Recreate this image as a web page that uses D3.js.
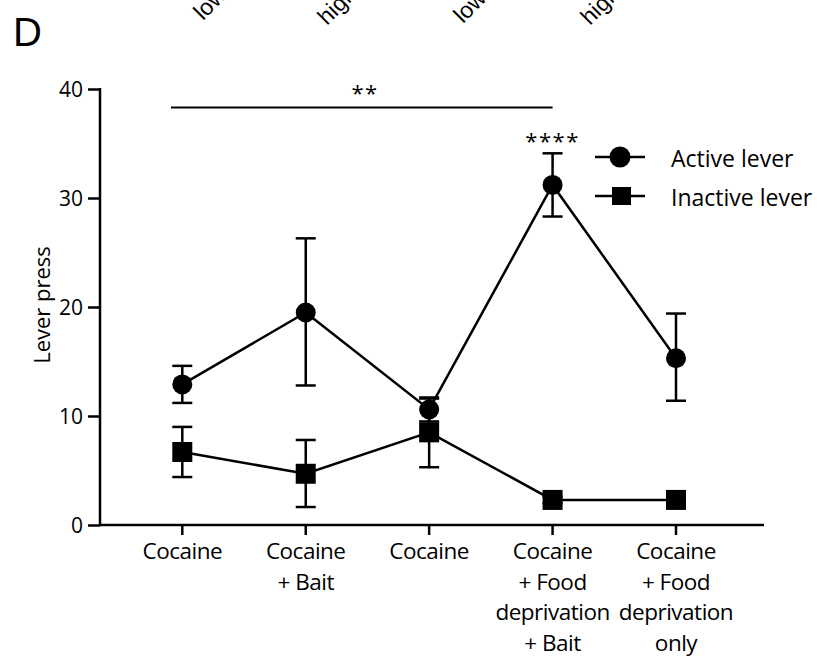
<!DOCTYPE html>
<html><head><meta charset="utf-8">
<script src="https://cdn.jsdelivr.net/npm/d3@7"></script>
<style>body{margin:0;background:#fff}svg{display:block}text{font-family:"Open Sans",Lato,sans-serif;fill:#000}</style>
</head><body>
<script>
const categories = [["Cocaine"],["Cocaine","+ Bait"],["Cocaine"],["Cocaine","+ Food","deprivation","+ Bait"],["Cocaine","+ Food","deprivation","only"]];
const activeMean = [12.9, 19.5, 10.6, 31.2, 15.3];
const activeHi   = [14.6, 26.3, 11.7, 34.1, 19.4];
const activeLo   = [11.2, 12.8, 9.5, 28.3, 11.4];
const inactiveMean = [6.7, 4.7, 8.5, 2.3, 2.3];
const inactiveHi   = [9.0, 7.8, 11.6, 2.6, 2.6];
const inactiveLo   = [4.4, 1.65, 5.3, 2.0, 2.0];
const yTicks = [0, 10, 20, 30, 40];
const seriesNames = ["Active lever", "Inactive lever"];
const topFragments = ["low", "high", "low", "high"];

const W = 817, H = 664;
const svg = d3.select("body").append("svg").attr("width", W).attr("height", H);

const x = d3.scalePoint().domain(d3.range(categories.length)).range([182.3, 676]);
const y = d3.scaleLinear().domain([0, 40]).range([525, 89]);

// cropped fragments from the panel above
const fragPos = [[203, 21], [327, 26], [463, 24], [590, 26]];
topFragments.forEach((t, i) => {
  svg.append("text").attr("transform", `translate(${fragPos[i][0]},${fragPos[i][1]}) rotate(-45)`)
    .attr("font-size", 23).style("font-family", "Liberation Sans, Arial, sans-serif").text(t);
});

svg.append("text").attr("x", 13).attr("y", 46).attr("font-size", 40).style("font-family", "Liberation Sans, Arial, sans-serif").text("D");

// axes
const yAxis = svg.append("g").attr("transform", "translate(100,0)")
  .call(d3.axisLeft(y).tickValues(yTicks).tickSize(12).tickPadding(5));
yAxis.select(".domain").attr("stroke-width", 2.5).attr("d", `M0,${y(40)-1}V${y(0)+1}`);
yAxis.selectAll(".tick line").attr("stroke-width", 2.5);
yAxis.selectAll(".tick text").attr("font-size", 21).style("font-family", "Open Sans, sans-serif").attr("dy", "0.36em");

const xg = svg.append("g").attr("transform", `translate(0,${y(0)})`);
xg.append("line").attr("x1", 99).attr("x2", 764).attr("stroke", "#000").attr("stroke-width", 2.5);
categories.forEach((c, i) => {
  xg.append("line").attr("x1", x(i)).attr("x2", x(i)).attr("y1", 0).attr("y2", 10).attr("stroke", "#000").attr("stroke-width", 2.5);
  const t = xg.append("text").attr("text-anchor", "middle").attr("font-size", 22.5).attr("letter-spacing", -0.5);
  c.forEach((line, j) => t.append("tspan").attr("x", x(i)).attr("y", 34 + j * 30.7).text(line));
});

// y label
svg.append("text").attr("transform", "translate(50,305) rotate(-90)").attr("text-anchor", "middle").attr("font-size", 22).text("Lever press");

// series
function drawSeries(mean, hi, lo, shape) {
  const g = svg.append("g");
  g.append("path").datum(mean).attr("fill", "none").attr("stroke", "#000").attr("stroke-width", 2.5)
    .attr("d", d3.line().x((d, i) => x(i)).y(d => y(d)));
  mean.forEach((m, i) => {
    const cx = x(i);
    g.append("line").attr("x1", cx).attr("x2", cx).attr("y1", y(hi[i])).attr("y2", y(lo[i])).attr("stroke", "#000").attr("stroke-width", 2.5);
    [hi[i], lo[i]].forEach(v => g.append("line").attr("x1", cx - 10).attr("x2", cx + 10).attr("y1", y(v)).attr("y2", y(v)).attr("stroke", "#000").attr("stroke-width", 2.5));
    if (shape === "circle") g.append("circle").attr("cx", cx).attr("cy", y(m)).attr("r", 10);
    else g.append("rect").attr("x", cx - 10).attr("y", y(m) - 10).attr("width", 20).attr("height", 20);
  });
}
drawSeries(inactiveMean, inactiveHi, inactiveLo, "square");
drawSeries(activeMean, activeHi, activeLo, "circle");

// significance
svg.append("line").attr("x1", 171).attr("x2", x(3)).attr("y1", 107.5).attr("y2", 107.5).attr("stroke", "#000").attr("stroke-width", 2);
svg.append("text").attr("x", 365).attr("y", 101).attr("text-anchor", "middle").attr("font-size", 22).attr("letter-spacing", 1.5).text("**");
svg.append("text").attr("x", x(3)).attr("y", 149).attr("text-anchor", "middle").attr("font-size", 22).attr("letter-spacing", 1.5).text("****");

// legend
const lg = svg.append("g");
[[157, "circle"], [196, "square"]].forEach(([ly, sh], i) => {
  lg.append("line").attr("x1", 595).attr("x2", 645).attr("y1", ly).attr("y2", ly).attr("stroke", "#000").attr("stroke-width", 2.5);
  if (sh === "circle") lg.append("circle").attr("cx", 620).attr("cy", ly).attr("r", 10.5);
  else lg.append("rect").attr("x", 612).attr("y", ly - 9).attr("width", 19).attr("height", 18);
  lg.append("text").attr("x", 671).attr("y", ly + 10).attr("font-size", 23).text(seriesNames[i]);
});
</script>
</body></html>
